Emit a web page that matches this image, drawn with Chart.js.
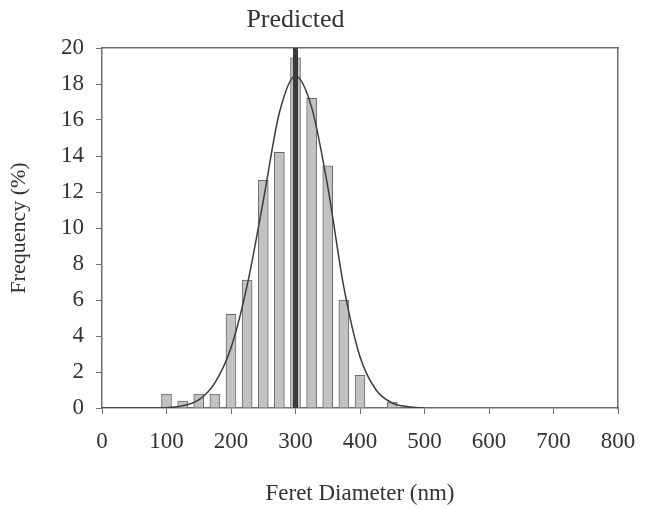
<!DOCTYPE html>
<html>
<head>
<meta charset="utf-8">
<script src="https://cdn.jsdelivr.net/npm/chart.js@4/dist/chart.umd.min.js"></script>
<style>
  html, body { margin: 0; padding: 0; background: #fff; }
  #wrap { width: 650px; height: 508px; }
</style>
</head>
<body>
<div id="wrap"><canvas id="feretChart" width="650" height="508"></canvas></div>
<script>
// Histograma (centros das classes, nm) e frequências (%)
const binCenters = [100, 125, 150, 175, 200, 225, 250, 275, 300, 325, 350, 375, 400, 425, 450];
const binFreq = [0.78, 0.38, 0.78, 0.78, 5.2, 7.1, 12.65, 14.2, 19.45, 17.2, 13.45, 6.0, 1.82, 0, 0.33];

// Curva ajustada
const curveX = [0, 50, 100, 125, 150, 175, 200, 225, 250, 275, 300, 325, 350, 375, 400, 425, 450, 475, 500];
const curveY = [0, 0, 0.02, 0.12, 0.45, 1.4, 3.35, 6.8, 11.5, 16.4, 18.45, 16.7, 12.3, 6.7, 2.85, 1.0, 0.28, 0.07, 0];

// Valor previsto
const predictedX = 300;
const predictedLabel = 'Predicted';

const xTicks = [0, 100, 200, 300, 400, 500, 600, 700, 800];
const yTicks = [0, 2, 4, 6, 8, 10, 12, 14, 16, 18, 20];

const serif = "'Liberation Serif', 'DejaVu Serif', serif";
const axisColor = '#6e6e6e';
const textColor = '#333333';

const predictedLabelPlugin = {
    id: 'predictedLabel',
    afterDraw(chart) {
        const x = chart.scales.x.getPixelForValue(predictedX);
        const ctx = chart.ctx;
        ctx.save();
        ctx.font = '26px ' + serif;
        ctx.fillStyle = textColor;
        ctx.textAlign = 'center';
        ctx.textBaseline = 'middle';
        ctx.fillText(predictedLabel, x, 20);
        ctx.restore();
    }
};

new Chart(document.getElementById('feretChart'), {
    type: 'bar',
    data: {
        datasets: [
            {
                type: 'line',
                label: 'Predicted',
                data: [{ x: predictedX, y: 0 }, { x: predictedX, y: 20 }],
                borderColor: '#3a3a3a',
                borderWidth: 5,
                pointRadius: 0,
                clip: false,
                order: 0
            },
            {
                type: 'line',
                label: 'Fit',
                data: curveX.map((x, i) => ({ x: x, y: curveY[i] })),
                borderColor: '#3c3c3c',
                borderWidth: 1.5,
                pointRadius: 0,
                cubicInterpolationMode: 'monotone',
                order: 1
            },
            {
                type: 'bar',
                label: 'Frequency',
                data: binCenters.map((x, i) => ({ x: x, y: binFreq[i] })),
                backgroundColor: '#c2c2c2',
                borderColor: '#6a6a6a',
                borderWidth: 1,
                barThickness: 10,
                order: 2
            }
        ]
    },
    options: {
        responsive: false,
        animation: false,
        layout: { padding: { top: 48, right: 32, bottom: 0, left: 4 } },
        plugins: {
            legend: { display: false },
            tooltip: { enabled: false },
            title: { display: false }
        },
        scales: {
            x: {
                type: 'linear',
                offset: false,
                min: 0,
                max: 800,
                afterBuildTicks: axis => { axis.ticks = xTicks.map(v => ({ value: v })); },
                ticks: { color: textColor, font: { family: serif, size: 23 }, padding: 14 },
                grid: { display: true, offset: false, drawOnChartArea: false, color: axisColor, tickLength: 6 },
                border: { color: axisColor, width: 1.5 },
                title: {
                    display: true,
                    text: 'Feret Diameter (nm)',
                    color: textColor,
                    font: { family: serif, size: 23 },
                    padding: { top: 26, bottom: 0 }
                },
                afterFit: axis => { axis.height = 100; }
            },
            y: {
                min: 0,
                max: 20,
                afterBuildTicks: axis => { axis.ticks = yTicks.map(v => ({ value: v })); },
                ticks: { color: textColor, font: { family: serif, size: 23 }, padding: 12 },
                grid: { display: true, drawOnChartArea: false, color: axisColor, tickLength: 6 },
                border: { color: axisColor, width: 1.5 },
                title: {
                    display: true,
                    text: 'Frequency (%)',
                    color: textColor,
                    font: { family: serif, size: 22 },
                    padding: { top: 2, bottom: 0 }
                },
                afterFit: axis => { axis.width = 98; }
            },
            xTop: {
                type: 'linear',
                position: 'top',
                offset: false,
                min: 0,
                max: 800,
                ticks: { display: false },
                grid: { display: true, offset: false, drawOnChartArea: false, drawTicks: false },
                border: { color: axisColor, width: 1.5 },
                afterFit: axis => { axis.height = 0; }
            },
            yRight: {
                position: 'right',
                min: 0,
                max: 20,
                ticks: { display: false },
                grid: { display: true, drawOnChartArea: false, drawTicks: false },
                border: { color: axisColor, width: 1.5 },
                afterFit: axis => { axis.width = 0; }
            }
        }
    },
    plugins: [predictedLabelPlugin]
});
</script>
</body>
</html>
